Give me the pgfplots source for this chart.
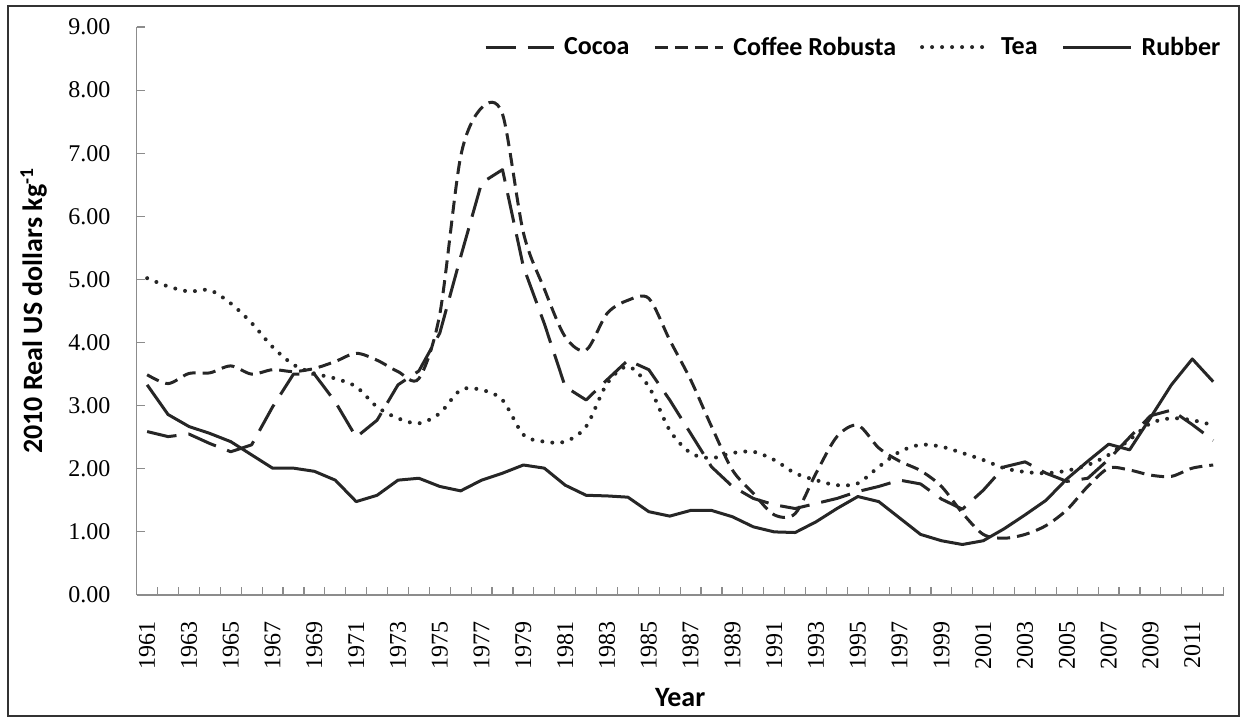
\documentclass[border=0pt]{standalone}
\usepackage{pgfplots}
\pgfplotsset{compat=1.18}
\usepackage{pgfplotstable}
\usepackage{fontspec}
\setmainfont{Liberation Serif}
\newfontfamily\carlito{Carlito}

\pgfplotstableread{
year cocoa coffee tea rubber
1961 2.59 3.49 5.02 3.33
1962 2.51 3.35 4.89 2.86
1963 2.55 3.51 4.81 2.67
1964 2.40 3.52 4.83 2.56
1965 2.27 3.63 4.62 2.43
1966 2.38 3.50 4.31 2.22
1967 2.98 3.57 3.93 2.01
1968 3.50 3.54 3.65 2.01
1969 3.50 3.59 3.51 1.96
1970 3.06 3.70 3.43 1.82
1971 2.50 3.83 3.30 1.48
1972 2.77 3.72 2.98 1.58
1973 3.33 3.54 2.80 1.82
1974 3.55 3.43 2.72 1.85
1975 4.15 4.45 2.88 1.72
1976 5.36 6.95 3.25 1.65
1977 6.53 7.72 3.25 1.82
1978 6.74 7.62 3.09 1.93
1979 5.20 5.74 2.54 2.06
1980 4.30 4.85 2.43 2.01
1981 3.30 4.09 2.43 1.74
1982 3.09 3.88 2.67 1.58
1983 3.41 4.46 3.35 1.57
1984 3.72 4.67 3.62 1.55
1985 3.57 4.70 3.30 1.32
1986 3.09 4.04 2.61 1.25
1987 2.56 3.41 2.25 1.34
1988 2.03 2.67 2.17 1.34
1989 1.72 1.98 2.25 1.24
1990 1.53 1.61 2.27 1.08
1991 1.43 1.27 2.14 1.00
1992 1.37 1.29 1.93 0.99
1993 1.45 1.93 1.82 1.16
1994 1.53 2.51 1.74 1.37
1995 1.64 2.69 1.77 1.56
1996 1.72 2.33 2.03 1.48
1997 1.82 2.12 2.27 1.22
1998 1.76 1.97 2.38 0.96
1999 1.52 1.72 2.35 0.86
2000 1.36 1.30 2.25 0.80
2001 1.66 0.96 2.14 0.86
2002 2.03 0.90 2.01 1.05
2003 2.11 0.96 1.95 1.27
2004 1.93 1.10 1.93 1.50
2005 1.80 1.35 1.97 1.84
2006 1.85 1.72 2.06 2.12
2007 2.15 2.01 2.22 2.39
2008 2.50 1.98 2.46 2.30
2009 2.84 1.90 2.72 2.81
2010 2.93 1.88 2.80 3.33
2011 2.70 2.01 2.77 3.74
2012 2.45 2.06 2.69 3.38
}\datatable

\begin{document}
\begin{tikzpicture}
\useasboundingbox (-136.7pt,-126pt) rectangle (1105.3pt,595pt);
\draw[line width=1.5pt, black!80] (-128.7pt,-121pt) rectangle (1102.3pt,589pt);
\begin{axis}[
  at={(0pt,0pt)}, anchor=south west,
  scale only axis, width=1087pt, height=568pt,
  xmin=1960.5, xmax=2012.5, ymin=0, ymax=9,
  axis x line*=bottom, axis y line*=left,
  axis line style={draw=gray!90, line width=1.5pt, -},
  xtick={1961,1963,...,2011},
  major x tick style={draw=none},
  minor xtick={1960.5,1961.5,...,2012.5},
  minor x tick style={draw=gray!90, line width=1.2pt},
  ytick={0,1,...,9},
  major y tick style={draw=gray!90, line width=1.2pt},
  tick align=inside, major tick length=8pt, minor tick length=8pt,
  tick label style={font=\fontsize{24}{28}\selectfont},
  xticklabel style={rotate=90, anchor=east, inner sep=0pt,
    /pgf/number format/1000 sep={}, /pgf/number format/assume math mode=true},
  xticklabel shift=26pt,
  yticklabel style={inner sep=0pt, /pgf/number format/.cd, fixed, fixed zerofill, precision=2, assume math mode=true},
  yticklabel shift=26pt,
  ylabel={2010 Real US dollars kg\textsuperscript{-1}},
  ylabel style={font=\carlito\bfseries\fontsize{28}{32}\selectfont, at={(axis description cs:-0.0948,0.5)}, anchor=center},
  xlabel={Year},
  xlabel style={font=\carlito\bfseries\fontsize{28}{32}\selectfont, at={(axis description cs:0.5,-0.18)}, anchor=center},
  no markers,
  legend columns=-1,
  legend style={at={(axis description cs:1,1)}, anchor=north east, yshift=-6pt, xshift=2pt,
    draw=none, fill=none, font=\carlito\bfseries\fontsize{26}{30}\selectfont,
    /tikz/every even column/.append style={column sep=22pt}},
  legend image code/.code={\draw[#1] (0pt,0pt) -- (68pt,0pt);},
]
\addplot[black!85, line width=3pt, dash pattern=on 30pt off 12pt, line join=round] table[x=year,y=cocoa]{\datatable};
\addplot[black!85, line width=3pt, smooth, dash pattern=on 13pt off 7pt] table[x=year,y=coffee]{\datatable};
\addplot[black!85, line width=4pt, smooth, dash pattern=on 0pt off 10pt, line cap=round] table[x=year,y=tea]{\datatable};
\addplot[black!85, line width=3pt, line join=round] table[x=year,y=rubber]{\datatable};
\legend{\hspace{7pt}Cocoa, \hspace{7pt}Coffee Robusta, \hspace{7pt}Tea, \hspace{7pt}Rubber}
\end{axis}
\end{tikzpicture}
\end{document}
